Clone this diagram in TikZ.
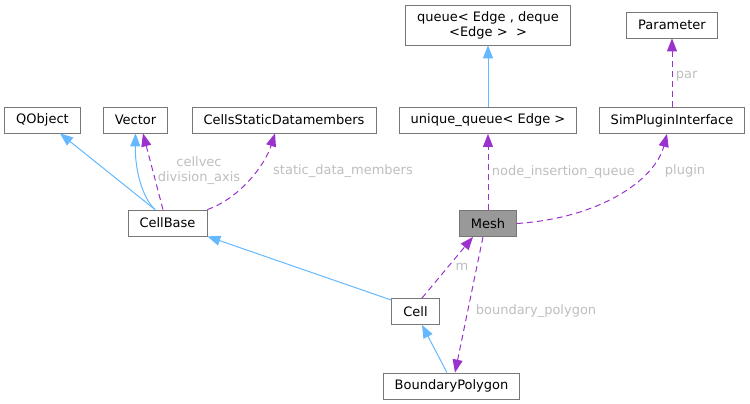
\documentclass[tikz,border=0pt]{standalone}
\usepackage{fontspec}
\setmainfont{DejaVu Sans}
\usetikzlibrary{arrows.meta}
\definecolor{inhblue}{HTML}{63B8FF}
\definecolor{usepurple}{HTML}{9A32CD}
\definecolor{edgegrey}{HTML}{BEBEBE}
\definecolor{boxgrey}{HTML}{777777}
\definecolor{meshfill}{HTML}{999999}

\begin{document}
\begin{tikzpicture}[x=1pt, y=-1pt, every node/.style={font=\fontsize{13}{15}\selectfont}]
\tikzset{cls/.style={draw=boxgrey, line width=0.8pt, fill=white, minimum height=26pt, inner xsep=11.5pt, inner ysep=2pt, align=center},
  inh/.style={inhblue, line width=1pt, -{Triangle[length=13pt,width=10pt]}},
  usage/.style={usepurple, line width=1pt, dash pattern=on 6pt off 4pt, -{Triangle[length=13pt,width=10pt]}},
  lbl/.style={text=edgegrey, align=center}}
\useasboundingbox (0,0) rectangle (750,404);
\node[cls] (qobj) at (42.5,120) {QObject};
\node[cls] (vec) at (135.5,120) {Vector};
\node[cls] (csd) at (284,120) {CellsStaticDatamembers};
\node[cls] (cb) at (167.5,223) {CellBase};
\node[cls, minimum height=40pt] (queue) at (488,25) {queue< Edge , deque\\<Edge >\ \ >};
\node[cls] (par) at (672,25) {Parameter};
\node[cls] (uq) at (488,120.5) {unique\_queue< Edge >};
\node[cls] (spi) at (672,120.5) {SimPluginInterface};
\node[cls, fill=meshfill] (mesh) at (488,223.5) {Mesh};
\node[cls] (cell) at (415.5,311.5) {Cell};
\node[cls] (bp) at (451.5,386) {BoundaryPolygon};
\draw[inh] ([xshift=-12.5pt]cb.north) -- ([xshift=17.5pt]qobj.south);
\draw[inh] ([xshift=-12.5pt]cb.north) .. controls (140,195) and (135,165) .. (vec.south);
\draw[usage] ([xshift=-4.5pt]cb.north) -- ([xshift=7.5pt]vec.south);
\node[lbl] (lcv) at (199,171) {cellvec\\division\_axis};
\draw[usage] (cb.north east) .. controls (240,198) and (265,165) .. ([xshift=-9pt]csd.south);
\node[lbl] (lsdm) at (343,171) {static\_data\_members};
\draw[inh] (uq) -- (queue);
\draw[usage] (mesh) -- (uq) node[lbl, midway, right] {node\_insertion\_queue};
\draw[usage] (mesh.east) .. controls (600,218) and (655,180) .. ([xshift=-5pt]spi.south);
\node[lbl] (lpl) at (685,171) {plugin};
\draw[usage] (spi) -- (par) node[lbl, pos=0.45, right] {par};
\draw[inh] ([yshift=-2pt]cell.north west) -- (cb.south east);
\draw[usage] ([xshift=6.5pt]cell.north) -- ([xshift=-15pt]mesh.south);
\node[lbl] (lm) at (462,267) {m};
\draw[usage] ([xshift=-5pt]mesh.south) -- ([xshift=3.5pt]bp.north);
\node[lbl] (lbp) at (536,311) {boundary\_polygon};
\draw[inh] ([xshift=-4.5pt]bp.north) -- ([xshift=6.5pt]cell.south);
\end{tikzpicture}
\end{document}
